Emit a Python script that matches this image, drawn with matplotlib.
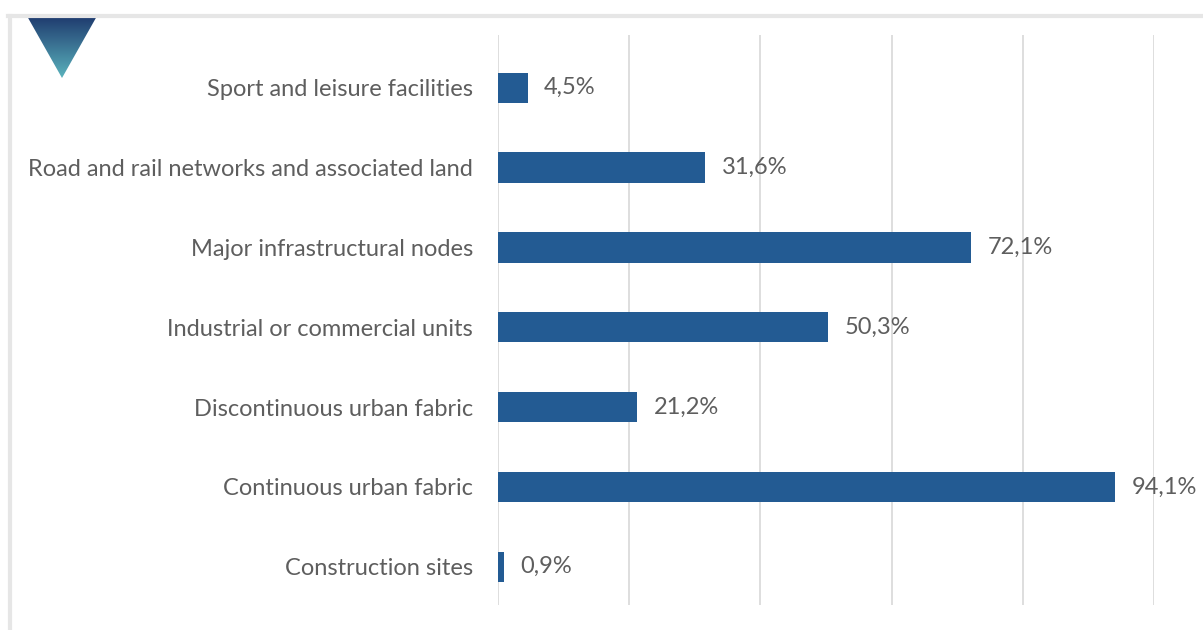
import numpy as np
import matplotlib.pyplot as plt
from matplotlib.patches import Polygon
from matplotlib.lines import Line2D
from matplotlib.colors import LinearSegmentedColormap

# Land cover classes (bottom to top) and their share in percent
categories = [
    "Construction sites",
    "Continuous urban fabric",
    "Discontinuous urban fabric",
    "Industrial or commercial units",
    "Major infrastructural nodes",
    "Road and rail networks and associated land",
    "Sport and leisure facilities",
]
shares = [0.9, 94.1, 21.2, 50.3, 72.1, 31.6, 4.5]
x_ticks = [0, 20, 40, 60, 80, 100]

bar_color = "#235b93"
text_color = "#5e5e5e"
grid_color = "#dedede"

plt.rcParams["font.family"] = ["Lato", "DejaVu Sans"]

fig = plt.figure(figsize=(12.03, 6.3), dpi=100)
ax = fig.add_axes([498 / 1203, 25 / 630, (1154 - 498) / 1203, (595 - 25) / 630])

y = np.arange(len(categories))
ax.barh(y, shares, height=0.38, color=bar_color, zorder=3)

for yi, v in zip(y, shares):
    ax.text(v + 2.5, yi, f"{v:.1f}%".replace(".", ","), va="center", ha="left",
            fontsize=17, color=text_color, clip_on=False)

ax.set_xlim(0, 100)
ax.set_ylim(-0.48, 6.66)
ax.set_xticks(x_ticks)
ax.set_xticklabels([])
ax.tick_params(axis="x", length=0)
ax.grid(axis="x", color=grid_color, linewidth=1.4, zorder=0)
ax.set_yticks(y)
ax.set_yticklabels(categories, fontsize=17, color=text_color)
ax.tick_params(axis="y", length=0, pad=18)
for s in ax.spines.values():
    s.set_visible(False)

# outer frame lines and the corner triangle
fig.add_artist(Line2D([8 / 1203, 1], [1 - 16 / 630, 1 - 16 / 630], color="#e6e6e6", lw=3))
fig.add_artist(Line2D([10 / 1203, 10 / 1203], [0, 1 - 16 / 630], color="#e6e6e6", lw=3))

grad = np.linspace(0, 1, 256).reshape(-1, 1)
cmap = LinearSegmentedColormap.from_list("tri", ["#5bb3bd", "#1e3a6e"])
tri_ax = fig.add_axes([27 / 1203, 1 - 78 / 630, 70 / 1203, 62 / 630])
img = tri_ax.imshow(grad, cmap=cmap, aspect="auto", extent=[0, 1, 0, 1], origin="lower")
clip = Polygon([[0, 1], [1, 1], [0.5, 0]], closed=True, transform=tri_ax.transData)
img.set_clip_path(clip)
tri_ax.set_xlim(0, 1)
tri_ax.set_ylim(0, 1)
tri_ax.axis("off")

fig.savefig("out.png", dpi=100)
